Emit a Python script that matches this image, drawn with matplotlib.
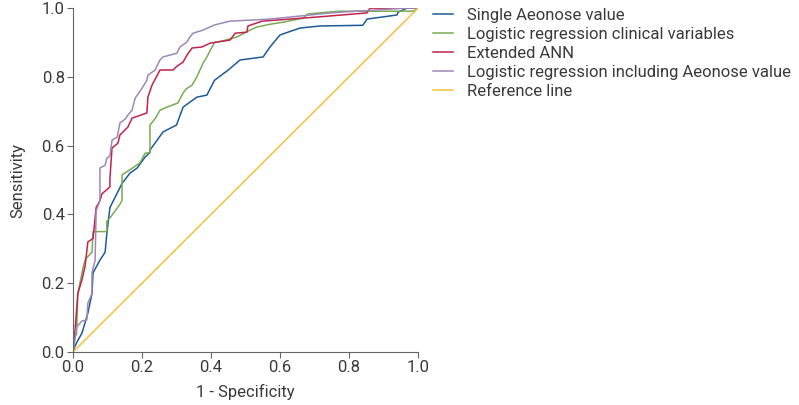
import matplotlib.pyplot as plt

# ROC points (false positive rate, sensitivity)
single_x = [0, 0.003, 0.01, 0.026, 0.043, 0.055, 0.058, 0.078, 0.093, 0.098, 0.107, 0.122, 0.142,
            0.165, 0.186, 0.209, 0.223, 0.223, 0.261, 0.30, 0.319, 0.359, 0.388, 0.41, 0.45, 0.484,
            0.551, 0.571, 0.60, 0.658, 0.716, 0.84, 0.852, 0.939, 0.942, 0.968, 1.0]
single_y = [0, 0.01, 0.026, 0.055, 0.113, 0.17, 0.23, 0.267, 0.29, 0.345, 0.42, 0.45, 0.49,
            0.52, 0.535, 0.567, 0.58, 0.587, 0.64, 0.66, 0.712, 0.741, 0.747, 0.79, 0.82, 0.849,
            0.858, 0.887, 0.922, 0.942, 0.948, 0.95, 0.968, 0.98, 0.988, 1.0, 1.0]

clin_x = [0, 0.003, 0.01, 0.014, 0.03, 0.036, 0.055, 0.058, 0.098, 0.098, 0.107, 0.122, 0.136,
          0.142, 0.142, 0.165, 0.194, 0.209, 0.223, 0.223, 0.239, 0.252, 0.272, 0.304, 0.319,
          0.328, 0.345, 0.359, 0.377, 0.388, 0.403, 0.41, 0.435, 0.475, 0.513, 0.533, 0.571,
          0.609, 0.667, 0.681, 0.736, 0.774, 0.986, 1.0]
clin_y = [0, 0.044, 0.05, 0.17, 0.25, 0.27, 0.29, 0.35, 0.35, 0.38, 0.39, 0.41, 0.43,
          0.44, 0.515, 0.53, 0.55, 0.578, 0.58, 0.66, 0.68, 0.703, 0.712, 0.724, 0.753,
          0.765, 0.776, 0.80, 0.84, 0.858, 0.887, 0.90, 0.905, 0.916, 0.936, 0.945, 0.953,
          0.959, 0.971, 0.983, 0.988, 0.991, 0.991, 1.0]

ann_x = [0, 0.003, 0.014, 0.026, 0.035, 0.043, 0.058, 0.067, 0.078, 0.084, 0.107, 0.107, 0.113,
         0.13, 0.136, 0.159, 0.171, 0.214, 0.217, 0.229, 0.252, 0.29, 0.30, 0.319, 0.33,
         0.345, 0.374, 0.397, 0.455, 0.47, 0.504, 0.507, 0.548, 0.707, 0.852, 0.861, 1.0]
ann_y = [0, 0.026, 0.17, 0.21, 0.25, 0.32, 0.33, 0.42, 0.44, 0.46, 0.48, 0.505, 0.593,
         0.607, 0.631, 0.654, 0.68, 0.695, 0.741, 0.776, 0.82, 0.82, 0.83, 0.843, 0.863,
         0.884, 0.887, 0.898, 0.907, 0.927, 0.93, 0.948, 0.962, 0.974, 0.986, 1.0, 1.0]

full_x = [0, 0.003, 0.01, 0.026, 0.04, 0.043, 0.055, 0.055, 0.064, 0.067, 0.078, 0.078, 0.093,
          0.098, 0.107, 0.113, 0.128, 0.136, 0.151, 0.159, 0.171, 0.18, 0.2, 0.214, 0.217,
          0.238, 0.252, 0.261, 0.301, 0.31, 0.33, 0.339, 0.348, 0.377, 0.41, 0.455, 0.571,
          0.736, 0.774, 0.968, 1.0]
full_y = [0, 0.015, 0.073, 0.09, 0.093, 0.142, 0.17, 0.23, 0.267, 0.41, 0.44, 0.535, 0.543,
          0.563, 0.57, 0.616, 0.625, 0.666, 0.677, 0.689, 0.703, 0.738, 0.767, 0.79, 0.805,
          0.82, 0.849, 0.858, 0.869, 0.887, 0.901, 0.916, 0.927, 0.936, 0.951, 0.962, 0.968,
          0.985, 0.988, 1.0, 1.0]

labels = ['Single Aeonose value', 'Logistic regression clinical variables', 'Extended ANN',
          'Logistic regression including Aeonose value', 'Reference line']
colors = ['#1d5b94', '#7aab52', '#c2234d', '#9d88b7', '#f5c13c']

plt.rcParams['font.family'] = ['Roboto', 'DejaVu Sans']
txt = '#3a3a3a'
fs = 12

fig = plt.figure(figsize=(7.99, 4.05), dpi=100)
ax = fig.add_axes([0.0914, 0.131, 0.4318, 0.849])

series = [(single_x, single_y), (clin_x, clin_y), (ann_x, ann_y), (full_x, full_y)]
for (xs, ys), c, lab in zip(series, colors, labels):
    ax.plot(xs, ys, color=c, lw=1.1, label=lab)
ax.plot([0, 1], [0, 1], color=colors[4], lw=1.1, label=labels[4])

ax.set_xlim(0, 1)
ax.set_ylim(0, 1)
ticks = [0, 0.2, 0.4, 0.6, 0.8, 1.0]
ax.set_xticks(ticks)
ax.set_yticks(ticks)
ax.set_xticklabels(['%.1f' % t for t in ticks])
ax.set_yticklabels(['%.1f' % t for t in ticks])
for s in ['top', 'right']:
    ax.spines[s].set_visible(False)
for s in ['left', 'bottom']:
    ax.spines[s].set_color('#666666')
ax.tick_params(colors='#666666', labelcolor=txt, labelsize=fs, length=4, pad=2)
ax.set_xlabel('1 - Specificity', fontsize=fs, color=txt, labelpad=6)
ax.set_ylabel('Sensitivity', fontsize=fs, color=txt, labelpad=12)

fig.legend(loc='upper left', bbox_to_anchor=(0.530, 1.006), frameon=False, fontsize=fs,
           labelcolor=txt, handlelength=1.2, handletextpad=0.8, labelspacing=0.25,
           borderaxespad=0.2)

fig.savefig('out.png', dpi=100)
